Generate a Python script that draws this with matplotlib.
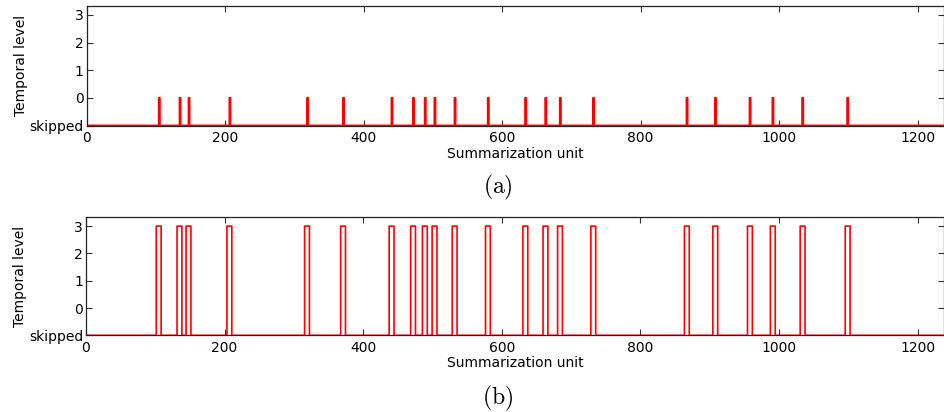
import numpy as np
import matplotlib
matplotlib.use("Agg")
import matplotlib.pyplot as plt

plt.rcParams.update({
    "font.family": "DejaVu Sans",
    "font.size": 10,
    "mathtext.fontset": "cm",
})

# summarization units where a unit is kept
KEPT_UNITS = [105, 135, 148, 207, 319, 371, 441, 472, 489, 503, 532,
              580, 634, 663, 684, 732, 867, 908, 958, 991, 1034, 1099]
N_UNITS = 1238
LEVEL_A = 0          # temporal level of kept units in (a)
LEVEL_B = 3          # temporal level of kept units in (b)
HALF_SPAN_B = 3      # kept units in (b) cover +-3 units
SKIPPED = -1

Y_TICKS = [-1, 0, 1, 2, 3]
Y_LABELS = ["skipped", "0", "1", "2", "3"]
X_TICKS = [0, 200, 400, 600, 800, 1000, 1200]

RED = "#ff0000"


def level_signal(half_span, level):
    sig = np.full(N_UNITS, SKIPPED, dtype=float)
    for u in KEPT_UNITS:
        sig[max(u - half_span, 0):u + half_span + 1] = level
    return sig


def style_axes(ax):
    ax.set_xlim(0, N_UNITS)
    ax.set_ylim(-1, 3.32)
    ax.set_yticks(Y_TICKS)
    ax.set_yticklabels(Y_LABELS)
    ax.set_xticks(X_TICKS)
    ax.tick_params(direction="in", top=True, right=True, length=4,
                   width=0.8, color="#333333")
    ax.tick_params(axis="y", pad=2)
    ax.tick_params(axis="x", pad=4)
    ax.set_ylabel("Temporal level", labelpad=1)
    ax.set_xlabel("Summarization unit", labelpad=1)
    for s in ax.spines.values():
        s.set_linewidth(0.9)
        s.set_color("#222222")


fig = plt.figure(figsize=(9.44, 4.12), dpi=100)
ax_a = fig.add_axes([0.0917, 0.695, 0.9083, 0.2905])
ax_b = fig.add_axes([0.0910, 0.186, 0.9090, 0.2864])

units = np.arange(N_UNITS)
ax_a.step(units, level_signal(0, LEVEL_A), where="mid", color=RED, lw=1.6)
ax_b.step(units, level_signal(HALF_SPAN_B, LEVEL_B), where="mid", color=RED, lw=1.2)

for ax in (ax_a, ax_b):
    style_axes(ax)

fig.text(0.527, 0.545, r"$\mathrm{(a)}$", ha="center", va="center", fontsize=17)
fig.text(0.527, 0.033, r"$\mathrm{(b)}$", ha="center", va="center", fontsize=17)

fig.savefig("out.png", dpi=100)
